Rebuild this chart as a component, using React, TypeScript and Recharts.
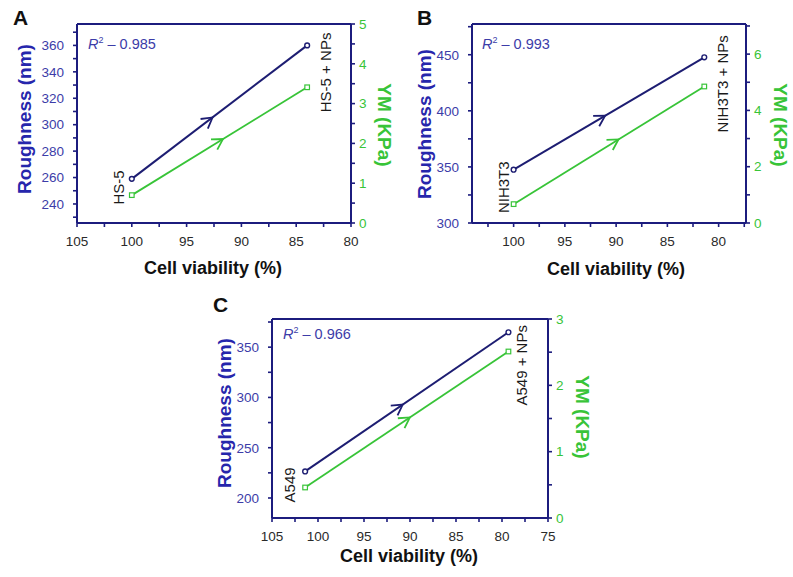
import React from 'react';
import { LineChart, Line, XAxis, YAxis } from 'recharts';

// ---------- data ----------
// Panel A
const viabilityA = [100, 84];
const roughnessA = [259, 360];
const ymA = [0.7, 3.41];
const namesA = ['HS-5', 'HS-5 + NPs'];
const r2A = '0.985';
const xTicksA = [105, 102.5, 100, 97.5, 95, 92.5, 90, 87.5, 85, 82.5, 80];
const xLabelsA = [105, 100, 95, 90, 85, 80];
const roughTicksA = [230, 240, 250, 260, 270, 280, 290, 300, 310, 320, 330, 340, 350, 360, 370];
const roughLabelsA = [240, 260, 280, 300, 320, 340, 360];
const ymTicksA = [0, 0.5, 1, 1.5, 2, 2.5, 3, 3.5, 4, 4.5, 5];
const ymLabelsA = [0, 1, 2, 3, 4, 5];

// Panel B
const viabilityB = [100, 81.4];
const roughnessB = [347.5, 447.7];
const ymB = [0.67, 4.85];
const namesB = ['NIH3T3', 'NIH3T3 + NPs'];
const r2B = '0.993';
const xTicksB = [102.5, 100, 97.5, 95, 92.5, 90, 87.5, 85, 82.5, 80, 77.5];
const xLabelsB = [100, 95, 90, 85, 80];
const roughTicksB = [300, 325, 350, 375, 400, 425, 450, 475];
const roughLabelsB = [300, 350, 400, 450];
const ymTicksB = [0, 1, 2, 3, 4, 5, 6, 7];
const ymLabelsB = [0, 2, 4, 6];

// Panel C
const viabilityC = [101.4, 79.3];
const roughnessC = [226.4, 364.8];
const ymC = [0.46, 2.51];
const namesC = ['A549', 'A549 + NPs'];
const r2C = '0.966';
const xTicksC = [105, 102.5, 100, 97.5, 95, 92.5, 90, 87.5, 85, 82.5, 80, 77.5, 75];
const xLabelsC = [105, 100, 95, 90, 85, 80, 75];
const roughTicksC = [200, 225, 250, 275, 300, 325, 350, 375];
const roughLabelsC = [200, 250, 300, 350];
const ymTicksC = [0, 0.5, 1, 1.5, 2, 2.5, 3];
const ymLabelsC = [0, 1, 2, 3];

// ---------- style ----------
const FONT = '"Liberation Sans", Arial, Helvetica, sans-serif';
const NAVY = '#1d1d72';
const FRAME = '#1c1c7e';
const BLUE_TICK = '#3c3ca8';
const BLUE_TITLE = '#2626ac';
const GREEN = '#38c438';
const DARK = '#1a1a1a';
const ML = 70;
const MR = 40;
const MT = 10;
const MB = 30;

type Pt = { x: number; y: number };

const build = (v: number[], r: number[], y: number[]) => v.map((vv, i) => ({ v: vv, r: r[i], ym: y[i] }));

function arrowPath(p0: Pt, p1: Pt, frac: number) {
  const tx = p0.x + (p1.x - p0.x) * frac;
  const ty = p0.y + (p1.y - p0.y) * frac;
  const dx = p1.x - p0.x;
  const dy = p1.y - p0.y;
  const len = Math.hypot(dx, dy) || 1;
  const ux = dx / len;
  const uy = dy / len;
  const L = 12;
  const a = (30 * Math.PI) / 180;
  const rot = (s: number) => {
    const c = Math.cos(s * a);
    const sn = Math.sin(s * a);
    return { x: ux * c - uy * sn, y: ux * sn + uy * c };
  };
  const r1 = rot(1);
  const r2 = rot(-1);
  return `M${tx - L * r1.x},${ty - L * r1.y} L${tx},${ty} L${tx - L * r2.x},${ty - L * r2.y}`;
}

const isIn = (v: number, list: number[]) => list.some((l) => Math.abs(l - v) < 1e-6);

function makeTick(labels: number[], color: string, kind: 'left' | 'right' | 'bottom') {
  return (p: any) => {
    const v = p.payload?.value;
    if (!isIn(v, labels)) return <g key={`t-${kind}-${v}`} />;
    const anchor = kind === 'left' ? 'end' : kind === 'right' ? 'start' : 'middle';
    const dy = kind === 'bottom' ? '0.71em' : '0.355em';
    return (
      <text key={`t-${kind}-${v}`} x={p.x} y={p.y} dy={dy} textAnchor={anchor} fill={color} fontSize={13.5} fontFamily={FONT}>
        {v}
      </text>
    );
  };
}

type PanelCfg = {
  plot: { left: number; top: number; width: number; height: number };
  data: { v: number; r: number; ym: number }[];
  xDomain: [number, number];
  rDomain: [number, number];
  yDomain: [number, number];
  xTicks: number[];
  xLabels: number[];
  rTicks: number[];
  rLabels: number[];
  yTicks: number[];
  yLabels: number[];
  names: string[];
  labelOff: [number, number][];
  fracNavy: number;
  fracGreen: number;
};

function Panel({ cfg }: { cfg: PanelCfg }) {
  const { plot } = cfg;
  const W = plot.width + ML + MR;
  const H = plot.height + MT + MB;
  let navyPrev: Pt | null = null;
  let greenPrev: Pt | null = null;

  const navyDot = (props: any) => {
    const { cx, cy, index, points } = props;
    const here = { x: cx, y: cy };
    let p0: Pt | null = null;
    if (index === 1) p0 = points && points[0] ? { x: points[0].x, y: points[0].y } : navyPrev;
    if (index === 0) navyPrev = here;
    const off = cfg.labelOff[index] || [0, 0];
    const lx = cx + off[0];
    const ly = cy + off[1];
    return (
      <g key={`nd-${index}`}>
        {index === 1 && p0 && (
          <path d={arrowPath(p0, here, cfg.fracNavy)} fill="none" stroke={NAVY} strokeWidth={1.8} strokeLinejoin="miter" />
        )}
        <circle cx={cx} cy={cy} r={2.4} fill="#fff" stroke={NAVY} strokeWidth={1.4} />
        <text
          x={lx}
          y={ly}
          transform={`rotate(-90 ${lx} ${ly})`}
          textAnchor="middle"
          dominantBaseline="central"
          fontSize={15}
          fontFamily={FONT}
          fill={DARK}
        >
          {cfg.names[index]}
        </text>
      </g>
    );
  };

  const greenDot = (props: any) => {
    const { cx, cy, index, points } = props;
    const here = { x: cx, y: cy };
    let p0: Pt | null = null;
    if (index === 1) p0 = points && points[0] ? { x: points[0].x, y: points[0].y } : greenPrev;
    if (index === 0) greenPrev = here;
    return (
      <g key={`gd-${index}`}>
        {index === 1 && p0 && (
          <path d={arrowPath(p0, here, cfg.fracGreen)} fill="none" stroke={GREEN} strokeWidth={1.8} />
        )}
        <rect x={cx - 2.3} y={cy - 2.3} width={4.6} height={4.6} fill="#fff" stroke={GREEN} strokeWidth={1.2} />
      </g>
    );
  };

  const axisLine = { stroke: FRAME, strokeWidth: 2 };
  const tickLine = { stroke: FRAME, strokeWidth: 1.6 };

  return (
    <div style={{ position: 'absolute', left: plot.left - ML, top: plot.top - MT, width: W, height: H }}>
      <LineChart width={W} height={H} data={cfg.data} margin={{ top: MT, right: 0, bottom: 0, left: 0 }}>
        <XAxis
          dataKey="v"
          type="number"
          reversed
          domain={cfg.xDomain}
          allowDataOverflow
          ticks={cfg.xTicks}
          interval={0}
          height={MB}
          tickSize={4}
          tickMargin={9}
          axisLine={axisLine}
          tickLine={tickLine}
          tick={makeTick(cfg.xLabels, '#2a2a2a', 'bottom')}
        />
        <XAxis
          xAxisId="top"
          dataKey="v"
          type="number"
          reversed
          orientation="top"
          mirror
          domain={cfg.xDomain}
          allowDataOverflow
          tick={false}
          tickLine={false}
          axisLine={axisLine}
        />
        <YAxis
          yAxisId="left"
          type="number"
          domain={cfg.rDomain}
          allowDataOverflow
          ticks={cfg.rTicks}
          interval={0}
          width={ML}
          tickSize={4}
          tickMargin={9}
          axisLine={axisLine}
          tickLine={tickLine}
          tick={makeTick(cfg.rLabels, BLUE_TICK, 'left')}
        />
        <YAxis
          yAxisId="right"
          orientation="right"
          type="number"
          domain={cfg.yDomain}
          allowDataOverflow
          ticks={cfg.yTicks}
          interval={0}
          width={MR}
          tickSize={4}
          tickMargin={4}
          axisLine={axisLine}
          tickLine={tickLine}
          tick={makeTick(cfg.yLabels, GREEN, 'right')}
        />
        <Line
          yAxisId="right"
          dataKey="ym"
          stroke={GREEN}
          strokeWidth={1.8}
          dot={greenDot}
          activeDot={false}
          isAnimationActive={false}
        />
        <Line
          yAxisId="left"
          dataKey="r"
          stroke={NAVY}
          strokeWidth={2}
          dot={navyDot}
          activeDot={false}
          isAnimationActive={false}
        />
      </LineChart>
    </div>
  );
}

const panelA: PanelCfg = {
  plot: { left: 77, top: 24, width: 274, height: 199 },
  data: build(viabilityA, roughnessA, ymA),
  xDomain: [80, 105],
  rDomain: [225.6, 376.2],
  yDomain: [0, 5],
  xTicks: xTicksA,
  xLabels: xLabelsA,
  rTicks: roughTicksA,
  rLabels: roughLabelsA,
  yTicks: ymTicksA,
  yLabels: ymLabelsA,
  names: namesA,
  labelOff: [
    [-13, 8.5],
    [18.5, 27],
  ],
  fracNavy: 0.46,
  fracGreen: 0.52,
};

const panelB: PanelCfg = {
  plot: { left: 472, top: 24, width: 274, height: 199 },
  data: build(viabilityB, roughnessB, ymB),
  xDomain: [77.33, 104.06],
  rDomain: [300, 477.4],
  yDomain: [0, 7.07],
  xTicks: xTicksB,
  xLabels: xLabelsB,
  rTicks: roughTicksB,
  rLabels: roughLabelsB,
  yTicks: ymTicksB,
  yLabels: ymLabelsB,
  names: namesB,
  labelOff: [
    [-10.5, 17.5],
    [18, 26.5],
  ],
  fracNavy: 0.48,
  fracGreen: 0.55,
};

const panelC: PanelCfg = {
  plot: { left: 272, top: 319, width: 276, height: 199 },
  data: build(viabilityC, roughnessC, ymC),
  xDomain: [75, 105],
  rDomain: [180.1, 378],
  yDomain: [0, 3],
  xTicks: xTicksC,
  xLabels: xLabelsC,
  rTicks: roughTicksC,
  rLabels: roughLabelsC,
  yTicks: ymTicksC,
  yLabels: ymLabelsC,
  names: namesC,
  labelOff: [
    [-15.5, 13.5],
    [13.5, 33],
  ],
  fracNavy: 0.48,
  fracGreen: 0.515,
};

// overlay text layout
const overlay = [
  { letter: 'A', lx: 13, ly: 25, r2: r2A, rx: 88, ry: 49, rough: [24, 119], ym: [384.5, 125], cell: [213, 268] },
  { letter: 'B', lx: 417, ly: 25, r2: r2B, rx: 482, ry: 49, rough: [424, 124], ym: [780, 125], cell: [616, 269] },
  { letter: 'C', lx: 213, ly: 312, r2: r2C, rx: 283, ry: 339, rough: [224, 413], ym: [582.5, 417], cell: [409, 556] },
];

export default function App() {
  return (
    <div style={{ position: 'absolute', left: 0, top: 0, width: 793, height: 577, background: '#fff', fontFamily: FONT, overflow: 'hidden' }}>
      <Panel cfg={panelA} />
      <Panel cfg={panelB} />
      <Panel cfg={panelC} />
      <svg width={793} height={577} style={{ position: 'absolute', left: 0, top: 0, pointerEvents: 'none' }}>
        {overlay.map((o) => (
          <g key={o.letter} fontFamily={FONT}>
            <text x={o.lx} y={o.ly} fontSize={21} fontWeight="bold" fill="#111">
              {o.letter}
            </text>
            <text x={o.rx} y={o.ry} fontSize={14.5} fill={BLUE_TICK}>
              <tspan fontStyle="italic">R</tspan>
              <tspan fontSize={9} dy={-6}>2</tspan>
              <tspan dy={6}>{` \u2013 ${o.r2}`}</tspan>
            </text>
            <text
              x={o.rough[0]}
              y={o.rough[1]}
              transform={`rotate(-90 ${o.rough[0]} ${o.rough[1]})`}
              textAnchor="middle"
              dominantBaseline="central"
              fontSize={19}
              fontWeight="bold"
              fill={BLUE_TITLE}
            >
              Roughness (nm)
            </text>
            <text
              x={o.ym[0]}
              y={o.ym[1]}
              transform={`rotate(90 ${o.ym[0]} ${o.ym[1]})`}
              textAnchor="middle"
              dominantBaseline="central"
              fontSize={19}
              fontWeight="bold"
              fill={GREEN}
            >
              YM (KPa)
            </text>
            <text
              x={o.cell[0]}
              y={o.cell[1]}
              textAnchor="middle"
              dominantBaseline="central"
              fontSize={18}
              fontWeight="bold"
              fill="#111"
            >
              Cell viability (%)
            </text>
          </g>
        ))}
      </svg>
    </div>
  );
}
